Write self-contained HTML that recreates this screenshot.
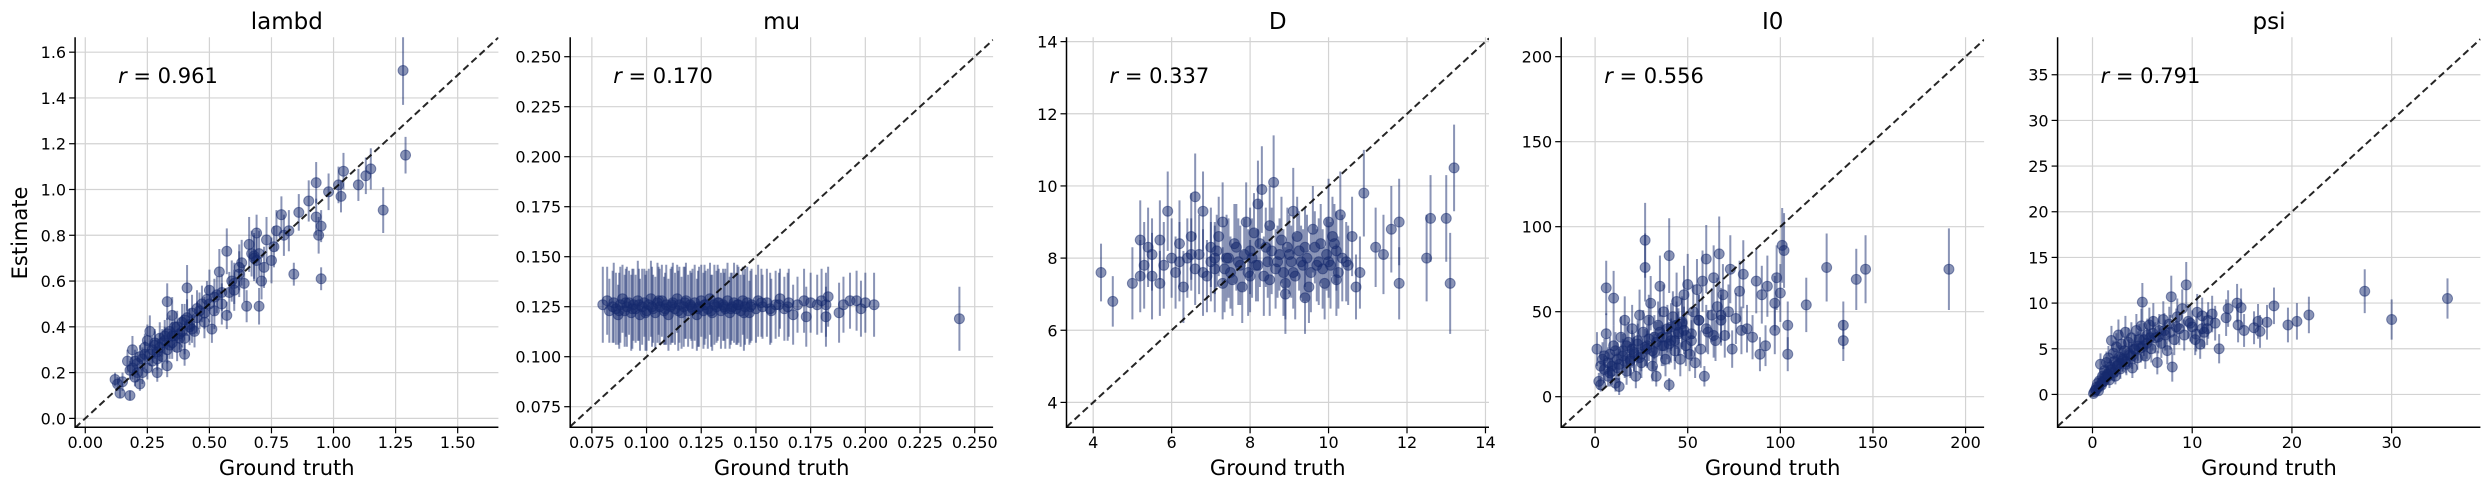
<!DOCTYPE html>
<html><head><meta charset="utf-8"><style>
html,body{margin:0;padding:0;background:#fff;}
svg{display:block;font-family:"DejaVu Sans","Liberation Sans",sans-serif;}
</style></head><body>
<svg id="fig" width="2489" height="490" viewBox="0 0 2489 490" xmlns="http://www.w3.org/2000/svg"></svg>
<script>
const lambdTruth=[0.12,0.13,0.14,0.15,0.17,0.18,0.19,0.19,0.2,0.21,0.22,0.22,0.23,0.24,0.25,0.25,0.26,0.27,0.27,0.28,0.29,0.29,0.30,0.31,0.31,0.32,0.33,0.33,0.34,0.35,0.35,0.36,0.37,0.37,0.38,0.39,0.4,0.40,0.41,0.41,0.42,0.43,0.44,0.45,0.33,0.47,0.48,0.49,0.50,0.51,0.52,0.53,0.54,0.55,0.57,0.57,0.58,0.59,0.6,0.62,0.63,0.64,0.65,0.66,0.67,0.68,0.69,0.70,0.71,0.72,0.73,0.75,0.76,0.77,0.79,0.8,0.82,0.84,0.86,0.9,0.93,0.93,0.94,0.95,0.95,0.98,1.02,1.03,1.04,1.1,1.13,1.15,1.2,1.28,1.29,
 0.18,0.2,0.21,0.23,0.24,0.26,0.28,0.29,0.30,0.32,0.33,0.34,0.35,0.36,0.38,0.39,0.40,0.42,0.43,0.45,0.46,0.48,0.50,0.52,0.55,0.60,0.62,0.68,0.69,0.70];
const lambdEst=[0.17,0.15,0.11,0.16,0.25,0.10,0.30,0.22,0.18,0.24,0.27,0.15,0.20,0.28,0.34,0.22,0.38,0.30,0.25,0.32,0.20,0.29,0.35,0.27,0.33,0.36,0.30,0.23,0.38,0.33,0.45,0.36,0.40,0.31,0.37,0.42,0.35,0.28,0.44,0.57,0.40,0.46,0.38,0.48,0.51,0.50,0.42,0.52,0.56,0.39,0.47,0.54,0.64,0.50,0.73,0.45,0.55,0.60,0.56,0.63,0.68,0.59,0.49,0.76,0.72,0.70,0.81,0.49,0.60,0.66,0.78,0.69,0.75,0.82,0.89,0.80,0.82,0.63,0.90,0.95,1.03,0.88,0.80,0.61,0.84,0.99,1.02,0.97,1.08,1.02,1.06,1.09,0.91,1.52,1.15,
 0.21,0.25,0.20,0.26,0.31,0.28,0.33,0.26,0.31,0.34,0.37,0.32,0.36,0.40,0.35,0.38,0.43,0.41,0.39,0.44,0.47,0.46,0.50,0.53,0.55,0.59,0.66,0.71,0.69,0.72];
const lambdErr=[0.03,0.03,0.02,0.04,0.05,0.02,0.06,0.05,0.04,0.05,0.05,0.03,0.05,0.06,0.07,0.05,0.07,0.06,0.05,0.06,0.04,0.06,0.07,0.06,0.06,0.07,0.06,0.05,0.07,0.07,0.08,0.07,0.07,0.06,0.07,0.08,0.07,0.05,0.08,0.1,0.08,0.08,0.07,0.08,0.08,0.08,0.07,0.08,0.09,0.06,0.08,0.08,0.1,0.09,0.1,0.06,0.09,0.09,0.09,0.1,0.1,0.08,0.07,0.12,0.1,0.1,0.08,0.08,0.08,0.09,0.1,0.1,0.09,0.09,0.08,0.09,0.09,0.05,0.08,0.09,0.09,0.08,0.08,0.05,0.07,0.08,0.08,0.07,0.08,0.07,0.08,0.09,0.1,0.15,0.08,
 0.04,0.05,0.04,0.05,0.06,0.05,0.06,0.05,0.06,0.06,0.07,0.06,0.06,0.07,0.06,0.07,0.07,0.07,0.06,0.07,0.08,0.07,0.08,0.08,0.08,0.09,0.1,0.1,0.1,0.1];

const muTruth=[0.080,0.082,0.083,0.085,0.086,0.087,0.088,0.089,0.090,0.091,0.092,0.093,0.094,0.095,0.096,0.097,0.098,0.099,0.100,0.101,0.102,0.103,0.104,0.105,0.106,0.107,0.108,0.109,0.110,0.111,0.112,0.113,0.114,0.115,0.116,0.117,0.118,0.119,0.120,0.121,0.122,0.123,0.124,0.125,0.126,0.127,0.128,0.129,0.130,0.131,0.132,0.133,0.134,0.135,0.136,0.137,0.138,0.139,0.140,0.141,0.142,0.143,0.144,0.145,0.146,0.147,0.148,0.150,0.151,0.153,0.155,0.157,0.159,0.161,0.163,0.165,0.167,0.169,0.172,0.173,0.175,0.178,0.180,0.182,0.182,0.183,0.188,0.190,0.193,0.196,0.198,0.200,0.204,0.243,
 0.0845,0.0875,0.0905,0.0935,0.0965,0.0995,0.1025,0.1055,0.1085,0.1115,0.1145,0.1175,0.1205,0.1235,0.1265,0.1295,0.1325,0.1355,0.1385,0.1415,0.1445,0.1475,0.1525,0.1565,0.1605,0.1645];
const muEst=[0.126,0.128,0.123,0.127,0.124,0.121,0.126,0.129,0.123,0.125,0.127,0.122,0.126,0.124,0.128,0.121,0.125,0.127,0.123,0.126,0.129,0.124,0.122,0.127,0.125,0.128,0.123,0.126,0.121,0.125,0.127,0.124,0.129,0.126,0.122,0.125,0.128,0.123,0.126,0.124,0.127,0.121,0.125,0.128,0.123,0.126,0.124,0.129,0.122,0.126,0.125,0.127,0.123,0.126,0.124,0.128,0.122,0.125,0.127,0.124,0.126,0.123,0.128,0.125,0.127,0.122,0.126,0.124,0.128,0.125,0.127,0.123,0.126,0.129,0.124,0.127,0.121,0.126,0.128,0.120,0.127,0.126,0.128,0.120,0.126,0.130,0.122,0.126,0.128,0.128,0.124,0.127,0.126,0.119,
 0.125,0.123,0.127,0.124,0.126,0.122,0.125,0.128,0.124,0.126,0.123,0.127,0.125,0.124,0.126,0.123,0.127,0.125,0.124,0.126,0.122,0.125,0.127,0.124,0.126,0.125];
const muErr=[0.019,0.017,0.016,0.020,0.018,0.015,0.019,0.017,0.018,0.020,0.016,0.019,0.018,0.017,0.020,0.018,0.019,0.017,0.020,0.018,0.019,0.017,0.018,0.020,0.019,0.018,0.017,0.020,0.018,0.019,0.020,0.018,0.017,0.019,0.018,0.020,0.019,0.018,0.017,0.020,0.019,0.018,0.020,0.018,0.019,0.017,0.020,0.018,0.019,0.020,0.018,0.017,0.019,0.018,0.020,0.019,0.018,0.017,0.020,0.018,0.019,0.018,0.017,0.019,0.018,0.016,0.018,0.017,0.018,0.016,0.017,0.016,0.017,0.015,0.016,0.017,0.015,0.014,0.016,0.015,0.015,0.015,0.016,0.015,0.016,0.015,0.015,0.014,0.014,0.015,0.014,0.015,0.016,0.016,
 0.018,0.019,0.017,0.020,0.018,0.019,0.020,0.017,0.018,0.019,0.020,0.018,0.017,0.019,0.020,0.018,0.019,0.017,0.018,0.020,0.019,0.018,0.017,0.018,0.016,0.017];

const dTruth=[4.2,4.5,5.0,5.2,5.2,5.3,5.4,5.5,5.5,5.7,5.7,5.8,5.9,6.0,6.1,6.2,6.3,6.4,6.5,6.6,6.6,6.7,6.8,6.9,7.0,7.1,7.2,7.3,7.3,7.4,7.5,7.6,7.7,7.8,7.9,8.0,8.0,8.1,8.2,8.2,8.3,8.4,8.5,8.5,8.6,8.7,8.8,8.9,9.0,9.1,9.1,9.2,9.3,9.4,9.5,9.6,9.7,9.8,9.9,10.0,10.0,10.1,10.2,10.2,10.3,10.5,10.6,10.7,10.8,10.9,11.2,11.4,11.6,11.8,11.8,12.5,12.6,13.0,13.1,13.2,
 6.2,6.5,6.8,7.0,7.15,7.35,7.45,7.55,7.65,7.75,7.85,7.95,8.05,8.15,8.25,8.35,8.45,8.55,8.65,8.75,8.85,8.95,9.05,9.15,9.25,9.35,9.45,9.55,9.65,9.75,9.85,9.95,10.05,10.15,10.25,10.35,10.45,7.1,8.9,9.4];
const dEst=[7.6,6.8,7.3,8.5,7.5,7.8,8.3,8.1,7.5,8.5,7.3,7.8,9.3,8.0,7.6,8.4,7.2,8.0,8.6,9.7,7.7,8.1,9.3,7.5,8.3,7.7,8.6,7.3,9.0,8.0,7.6,8.4,7.9,7.2,9.0,8.2,7.5,8.7,9.5,7.8,9.9,8.3,7.4,8.9,10.1,7.9,8.5,7.3,8.1,9.3,7.6,8.6,7.9,8.3,7.2,8.8,7.8,8.4,7.3,9.0,7.9,8.6,7.4,8.2,9.2,7.8,8.6,7.2,7.6,9.8,8.3,8.1,8.8,9.0,7.3,8.0,9.1,9.1,7.3,10.5,
 7.9,8.1,7.6,7.9,8.2,7.7,8.0,7.4,8.3,7.8,8.1,7.6,8.0,7.8,8.4,7.5,7.9,8.2,7.7,8.1,7.6,8.3,7.9,7.5,8.2,7.8,8.0,7.6,8.3,7.9,7.7,8.1,7.8,8.4,7.6,8.0,7.9,8.0,7.0,6.9];
const dErr=[0.8,0.7,1.0,1.1,1.0,1.2,1.1,1.0,1.2,1.1,0.9,1.2,1.1,1.1,1.0,1.2,1.0,1.1,1.2,1.2,1.0,1.1,1.1,1.0,1.1,1.2,1.1,1.0,1.1,1.2,1.0,1.1,1.2,1.0,1.1,1.2,1.0,1.1,1.2,1.0,1.2,1.1,1.0,1.1,1.3,1.0,1.2,1.0,1.1,1.2,1.0,1.1,1.0,1.1,1.0,1.2,1.0,1.1,1.0,1.2,1.0,1.1,1.0,1.1,1.2,1.1,1.1,0.9,1.0,1.2,1.1,1.1,1.2,1.2,1.0,1.2,1.2,1.2,1.4,1.2,
 1.1,1.0,1.2,1.1,1.0,1.2,1.1,1.0,1.2,1.1,1.0,1.2,1.1,1.0,1.2,1.1,1.0,1.2,1.1,1.0,1.2,1.1,1.0,1.2,1.1,1.0,1.2,1.1,1.0,1.2,1.1,1.0,1.2,1.1,1.0,1.2,1.1,1.0,1.1,1.0];

const i0Truth=[1,2,3,4,5,6,6,7,8,9,10,10,11,12,13,14,15,16,17,18,19,20,21,22,23,24,25,26,27,27,28,29,30,31,32,33,34,35,36,37,38,39,40,40,41,42,43,44,45,46,47,48,49,50,51,52,53,54,55,56,57,58,59,60,61,63,64,65,66,67,68,69,70,72,73,74,76,78,79,80,82,85,87,89,90,92,93,97,97,98,100,101,102,104,104,114,125,134,134,141,146,191,
 3,5,7,9,11,13,15,17,19,21,23,25,27,29,31,33,35,37,39,41,43,45,47,49,8,12,16,20,24,28,32,36,40,44,48,52,56,60,64,68];
const i0Est=[28,9,7,22,16,64,37,12,25,18,58,30,8,22,6,35,27,45,15,32,21,40,25,12,33,48,20,38,92,76,28,45,55,18,35,12,42,65,30,50,22,40,83,7,33,47,27,56,38,22,43,60,30,66,25,37,50,20,63,45,28,68,12,81,38,48,70,33,53,84,45,60,36,50,75,28,46,62,39,72,40,35,68,25,60,30,65,39,55,70,61,89,86,42,25,54,76,42,33,69,75,75,
 18,24,20,15,27,19,24,30,22,26,31,25,29,34,27,32,38,30,35,41,33,37,44,36,14,17,21,28,23,30,26,35,31,42,39,33,45,40,36,48];
const i0Err=[10,5,4,10,8,16,12,6,10,8,16,12,5,10,5,12,10,14,8,12,10,14,10,7,12,15,9,13,22,20,11,15,16,9,13,6,14,18,12,16,10,14,22,4,13,15,11,17,14,10,15,17,12,18,10,13,16,9,18,15,11,18,6,20,13,16,19,12,17,22,15,18,13,16,20,11,15,18,14,20,14,13,19,10,17,12,18,14,16,19,17,22,22,14,10,16,20,14,12,18,20,24,
 9,10,9,8,11,9,10,12,10,11,12,10,11,13,11,12,14,12,13,14,12,13,15,13,8,9,10,11,10,12,11,13,12,14,14,12,15,14,13,16];

const psiTruth=[0.1,0.2,0.3,0.4,0.5,0.6,0.7,0.8,0.9,1.0,1.1,1.2,1.3,1.4,1.5,1.6,1.7,1.8,1.9,2.0,2.1,2.2,2.3,2.4,2.5,2.6,2.7,2.8,2.9,3.0,3.2,3.3,3.4,3.6,3.7,3.9,4.0,4.2,4.4,4.5,4.7,4.9,5.0,5.1,5.3,5.5,5.7,5.9,6.1,6.3,6.5,6.7,6.9,7.1,7.3,7.5,7.7,7.9,8.0,8.2,8.5,8.7,9.0,9.2,9.4,9.6,10.0,10.3,10.5,10.8,11.0,11.2,11.5,12.0,12.3,12.7,13.4,13.6,14.5,14.6,14.9,15.2,16.2,16.6,16.8,17.5,18.2,19.6,20.5,21.7,27.3,30.0,35.6,
 0.35,0.65,0.95,1.25,1.55,1.85,2.15,2.45,2.75,3.05,3.35,3.65,3.95,4.25,4.55,4.85,5.15,5.45,5.75,6.05,6.6,7.2,7.8,8.4,9.8,10.4,11.0,11.6];
const psiEst=[0.1,0.3,0.5,0.8,1.2,0.4,1.5,3.3,1.0,2.0,1.4,2.6,1.8,3.5,2.2,4.0,1.6,3.0,5.9,2.5,4.5,3.6,2.0,5.2,3.2,6.5,4.1,2.8,5.5,3.7,4.8,6.8,3.3,5.7,4.3,6.2,2.9,5.0,7.0,4.0,6.0,7.5,10.1,5.3,4.2,6.5,7.6,5.0,8.0,6.2,3.5,7.0,5.6,8.2,6.5,4.8,7.7,10.7,3.0,6.0,8.5,7.2,9.4,6.5,12.0,8.0,7.4,6.0,9.0,5.5,8.6,6.8,7.2,8.8,7.8,5.0,8.4,9.4,10.0,7.6,9.5,7.0,7.3,8.0,6.9,7.9,9.7,7.6,8.0,8.7,11.3,8.2,10.5,
 0.5,0.9,1.3,1.9,2.0,2.7,2.4,3.1,3.4,3.9,3.6,4.5,4.2,4.9,5.3,5.1,6.0,5.6,6.2,6.7,6.3,7.0,6.8,7.4,7.8,6.6,7.2,8.1];
const psiErr=[0.3,0.4,0.5,0.6,0.7,0.5,0.8,1.2,0.7,0.9,0.8,1.0,0.9,1.2,1.0,1.3,0.9,1.1,1.6,1.0,1.4,1.2,0.9,1.5,1.2,1.7,1.3,1.1,1.6,1.2,1.5,1.8,1.2,1.6,1.4,1.7,1.1,1.5,1.8,1.3,1.7,1.9,2.1,1.6,1.4,1.8,1.9,1.5,2.0,1.7,1.3,1.8,1.6,2.0,1.7,1.5,1.9,2.3,1.6,1.7,2.0,1.8,2.1,1.7,2.5,1.9,1.8,1.7,2.0,1.6,2.0,1.8,1.8,2.0,1.9,1.6,2.0,2.0,2.1,1.9,2.1,1.8,1.8,1.9,1.8,1.9,2.0,1.9,2.0,2.0,2.4,2.2,2.2,
 0.5,0.6,0.7,0.9,0.9,1.1,1.0,1.2,1.2,1.4,1.3,1.5,1.4,1.6,1.6,1.6,1.8,1.7,1.8,1.9,1.8,1.9,1.9,2.0,2.0,1.9,2.0,2.0];

const panelTitles=["lambd","mu","D","I0","psi"];
const corrLabels=["0.961","0.170","0.337","0.556","0.791"];
const lambdTicksX=[0,0.25,0.5,0.75,1,1.25,1.5], lambdTicksY=[0,0.2,0.4,0.6,0.8,1.0,1.2,1.4,1.6];
const muTicks=[0.075,0.1,0.125,0.15,0.175,0.2,0.225,0.25];
const dTicks=[4,6,8,10,12,14];
const i0TicksX=[0,50,100,150,200], i0TicksY=[0,50,100,150,200];
const psiTicksX=[0,10,20,30], psiTicksY=[0,5,10,15,20,25,30,35];

const NS="http://www.w3.org/2000/svg";
const svg=document.getElementById('fig');
function mk(tag,attrs,parent){const e=document.createElementNS(NS,tag);for(const k in attrs)e.setAttribute(k,attrs[k]);(parent||svg).appendChild(e);return e;}

const panels=[
 {id:'lambd',left:75.1,right:498.4,xlim:[-0.041,1.664],ylim:[-0.039,1.665],tx:lambdTicksX,ty:lambdTicksY,fx:2,fy:1,X:lambdTruth,Y:lambdEst,E:lambdErr},
 {id:'mu',left:570.2,right:993.1,xlim:[0.0651,0.2584],ylim:[0.0647,0.2597],tx:muTicks,ty:muTicks,fx:3,fy:3,X:muTruth,Y:muEst,E:muErr},
 {id:'d',left:1066.5,right:1489,xlim:[3.32,14.09],ylim:[3.31,14.12],tx:dTicks,ty:dTicks,fx:0,fy:0,X:dTruth,Y:dEst,E:dErr},
 {id:'i0',left:1561.2,right:1984.1,xlim:[-18.3,210],ylim:[-18,211.4],tx:i0TicksX,ty:i0TicksY,fx:0,fy:0,X:i0Truth,Y:i0Est,E:i0Err},
 {id:'psi',left:2057.6,right:2480.4,xlim:[-3.5,38.9],ylim:[-3.6,39.1],tx:psiTicksX,ty:psiTicksY,fx:0,fy:0,X:psiTruth,Y:psiEst,E:psiErr}
];
const TOP=37.3,BOT=427.3,COL='#152a6e';
const defs=mk('defs',{});
panels.forEach((p,i)=>{
  const g=mk('g',{});
  
  
  const sx=v=>p.left+(v-p.xlim[0])/(p.xlim[1]-p.xlim[0])*(p.right-p.left);
  const sy=v=>BOT-(v-p.ylim[0])/(p.ylim[1]-p.ylim[0])*(BOT-TOP);
  const cp=mk('clipPath',{id:'clip'+i},defs);
  mk('rect',{x:p.left,y:TOP,width:p.right-p.left,height:BOT-TOP},cp);
  const grid=mk('g',{stroke:'#d3d3d3','stroke-width':1.2},g);
  
  
  p.tx.forEach(t=>{mk('line',{x1:sx(t),x2:sx(t),y1:TOP,y2:BOT},grid);});
  p.ty.forEach(t=>{mk('line',{x1:p.left,x2:p.right,y1:sy(t),y2:sy(t)},grid);});
  const dg=mk('g',{'clip-path':'url(#clip'+i+')'},g);
  
  
  for(let k=0;k<p.X.length;k++){
    const eb=mk('line',{x1:sx(p.X[k]),x2:sx(p.X[k]),y1:sy(p.Y[k]-p.E[k]),y2:sy(p.Y[k]+p.E[k]),stroke:COL,'stroke-width':2,'stroke-opacity':0.5},dg);
    
    
    const c=mk('circle',{cx:sx(p.X[k]),cy:sy(p.Y[k]),r:5,fill:COL,'fill-opacity':0.5,stroke:COL,'stroke-opacity':0.5,'stroke-width':1},dg);
    
    
  }
  const dl=mk('line',{x1:sx(p.xlim[0]),y1:sy(p.xlim[0]),x2:sx(p.xlim[1]),y2:sy(p.xlim[1]),stroke:'#000','stroke-width':2,'stroke-dasharray':'7,4','clip-path':'url(#clip'+i+')',opacity:0.85},g);
  
  
  const sp=mk('path',{d:`M${p.left},${TOP}V${BOT}H${p.right}`,fill:'none',stroke:'#000','stroke-width':1.5},g);
  
  
  const xt=mk('g',{},g);
  
  
  p.tx.forEach(t=>{
    mk('line',{x1:sx(t),x2:sx(t),y1:BOT,y2:BOT+6,stroke:'#000','stroke-width':1.2},xt);
    const tt=mk('text',{x:sx(t),y:448,'font-size':16,'text-anchor':'middle',fill:'#000'},xt);
    tt.textContent=t.toFixed(p.fx);
  });
  const yt=mk('g',{},g);
  
  
  p.ty.forEach(t=>{
    mk('line',{x1:p.left-6,x2:p.left,y1:sy(t),y2:sy(t),stroke:'#000','stroke-width':1.2},yt);
    const tt=mk('text',{x:p.left-9,y:sy(t)+6,'font-size':16,'text-anchor':'end',fill:'#000'},yt);
    tt.textContent=t.toFixed(p.fy);
  });
  const cx=(p.left+p.right)/2;
  const ti=mk('text',{x:cx,y:29,'font-size':23,'text-anchor':'middle',fill:'#000'},g);
  
  
  ti.textContent=panelTitles[i];
  const xl=mk('text',{x:cx,y:475,'font-size':21,'text-anchor':'middle',fill:'#000'},g);
  
  
  xl.textContent='Ground truth';
  const rt=mk('text',{x:p.left+43,y:83,'font-size':21,fill:'#000'},g);
  
  
  const ri=mk('tspan',{'font-style':'italic'},rt);ri.textContent='r';
  const rv=mk('tspan',{},rt);rv.textContent=' = '+corrLabels[i];
});
const yl=mk('text',{x:0,y:0,'font-size':21,'text-anchor':'middle',fill:'#000',transform:'translate(27,233) rotate(-90)'});


yl.textContent='Estimate';
</script>
</body></html>
